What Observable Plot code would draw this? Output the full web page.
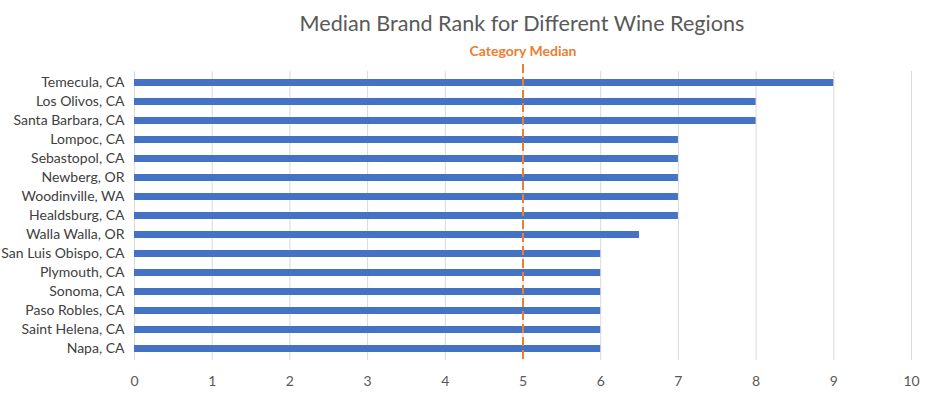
<!DOCTYPE html>
<html>
<head>
<meta charset="utf-8">
<script src="https://cdn.jsdelivr.net/npm/d3@7"></script>
<script src="https://cdn.jsdelivr.net/npm/@observablehq/plot@0.6"></script>
<style>
  html, body { margin: 0; padding: 0; background: #fff; overflow: hidden; }
  #wrap { width: 925px; height: 393px; overflow: hidden; font-family: Lato, "Open Sans", sans-serif; }
  #title { height: 40px; position: relative; }
  #title span { position: absolute; left: 522px; top: 10px; transform: translateX(-50%); white-space: nowrap;
    font-size: 21.6px; color: #595959; }
  #chart svg { display: block; }
</style>
</head>
<body>
<div id="wrap">
  <div id="title"><span>Median Brand Rank for Different Wine Regions</span></div>
  <div id="chart"></div>
</div>
<script>
const regions = ["Temecula, CA", "Los Olivos, CA", "Santa Barbara, CA", "Lompoc, CA", "Sebastopol, CA",
  "Newberg, OR", "Woodinville, WA", "Healdsburg, CA", "Walla Walla, OR", "San Luis Obispo, CA",
  "Plymouth, CA", "Sonoma, CA", "Paso Robles, CA", "Saint Helena, CA", "Napa, CA"];
const medianRank = [9, 8, 8, 7, 7, 7, 7, 7, 6.5, 6, 6, 6, 6, 6, 6];
const categoryMedian = 5;
const categoryLabel = "Category Median";
const xTicks = [0, 1, 2, 3, 4, 5, 6, 7, 8, 9, 10];

const data = regions.map((r, i) => ({region: r, value: medianRank[i]}));

const chart = Plot.plot({
  width: 925,
  height: 353,
  marginLeft: 134,
  marginRight: 14,
  marginTop: 31,
  marginBottom: 33,
  style: {fontFamily: "Lato, 'Open Sans', sans-serif", fontSize: "14px", color: "#595959", background: "#fff"},
  x: {domain: [0, 10], ticks: xTicks, label: null},
  y: {domain: regions, label: null, paddingInner: 0.63, paddingOuter: 0.315},
  marks: [
    Plot.gridX(xTicks, {stroke: "#D9D9D9", strokeOpacity: 1, strokeWidth: 1}),
    Plot.barX(data, {x: "value", y: "region", fill: "#4472C4"}),
    Plot.ruleX([categoryMedian], {stroke: "#ED7D31", strokeWidth: 2, strokeDasharray: "9,4", insetTop: -7, insetBottom: -3}),
    Plot.text([categoryLabel], {x: categoryMedian, frameAnchor: "top", dy: -25, fill: "#ED7D31", fontWeight: "bold", fontSize: 14}),
    Plot.axisX(xTicks, {tickSize: 0, tickPadding: 16, fontSize: 14, fill: "#595959", label: null}),
    Plot.axisY({tickSize: 0, tickPadding: 10, fontSize: 14, fill: "#404040", label: null})
  ]
});
document.getElementById("chart").appendChild(chart);
</script>
</body>
</html>
